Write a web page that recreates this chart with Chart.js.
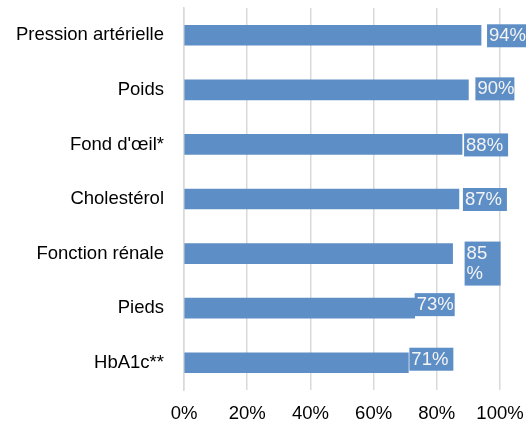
<!DOCTYPE html>
<html lang="fr">
<head>
<meta charset="utf-8">
<script src="https://cdn.jsdelivr.net/npm/chart.js@4"></script>
<style>
  html, body { margin: 0; padding: 0; background: #fff; }
  #wrap { width: 526px; height: 422px; }
</style>
</head>
<body>
<div id="wrap"><canvas id="examChart" width="526" height="422"></canvas></div>
<script>
/* Données du graphique */
const categories = ['Pression artérielle', 'Poids', "Fond d'œil*", 'Cholestérol', 'Fonction rénale', 'Pieds', 'HbA1c**'];
const percentValues = [94, 90, 88, 87, 85, 73, 71];
const xTickValues = [0, 20, 40, 60, 80, 100];

/* Placement des étiquettes (décalage depuis le bout de la barre) */
const labelLayout = [
    { dx: 6, w: 44, dy: 0.5, wrap: false },
    { dx: 7, w: 39, dy: -1, wrap: false },
    { dx: 2, w: 44, dy: 0.5, wrap: false },
    { dx: 4, w: 44, dy: 0.5, wrap: false },
    { dx: 12, w: 36, dy: 10, wrap: true },
    { dx: 0, w: 40, dy: -3.5, wrap: false },
    { dx: 1, w: 44, dy: -3.5, wrap: false }
];

const BAR_BLUE = '#5e8ec6';
const FONT = '"Liberation Sans", Arial, sans-serif';

// étiquettes de valeur dans une boîte bleue
const valueBoxPlugin = {
    id: 'valueBox',
    afterDatasetsDraw(chart) {
        const ctx = chart.ctx;
        const meta = chart.getDatasetMeta(0);
        ctx.save();
        ctx.font = '18.5px ' + FONT;
        ctx.textBaseline = 'middle';
        ctx.textAlign = 'left';
        meta.data.forEach((bar, i) => {
            const lay = labelLayout[i];
            const pad = 2;
            const lines = lay.wrap ? [String(percentValues[i]), '%'] : [percentValues[i] + '%'];
            const lineH = 20;
            const h = lines.length * lineH + (lines.length > 1 ? 4 : 3);
            const x = bar.x + lay.dx;
            const top = bar.y + lay.dy - h / 2;
            ctx.fillStyle = BAR_BLUE;
            ctx.fillRect(x, top, lay.w, h);
            ctx.fillStyle = '#f4f4f4';
            lines.forEach((ln, k) => {
                ctx.fillText(ln, x + pad, top + 2 + lineH / 2 + k * lineH);
            });
        });
        ctx.restore();
    }
};

new Chart(document.getElementById('examChart'), {
    type: 'bar',
    data: {
        labels: categories,
        datasets: [{
            data: percentValues,
            backgroundColor: BAR_BLUE,
            borderWidth: 0,
            barThickness: 20
        }]
    },
    options: {
        indexAxis: 'y',
        responsive: false,
        animation: false,
        layout: { padding: { top: 8, right: 26, bottom: 0, left: 0 } },
        plugins: {
            legend: { display: false },
            tooltip: { enabled: false }
        },
        scales: {
            x: {
                min: 0,
                max: 100,
                afterBuildTicks: (scale) => {
                    scale.ticks = xTickValues.map(v => ({ value: v }));
                },
                afterFit: (scale) => {
                    scale.height = 32;
                    scale.paddingLeft = 0;
                    scale.paddingRight = 0;
                },
                grid: { color: '#d9d9d9', lineWidth: 1.5, drawTicks: false },
                border: { display: false },
                ticks: {
                    padding: 13,
                    color: '#000',
                    font: { family: FONT, size: 18.5 },
                    callback: (v) => v + '%'
                }
            },
            y: {
                afterFit: (scale) => {
                    scale.width = 184;
                    scale.paddingTop = 0;
                    scale.paddingBottom = 0;
                },
                grid: { display: false, drawTicks: false },
                border: { display: true, color: '#d9d9d9', width: 1.5 },
                ticks: {
                    padding: 20,
                    color: '#000',
                    font: { family: FONT, size: 18.5 }
                }
            }
        }
    },
    plugins: [valueBoxPlugin]
});
</script>
</body>
</html>
